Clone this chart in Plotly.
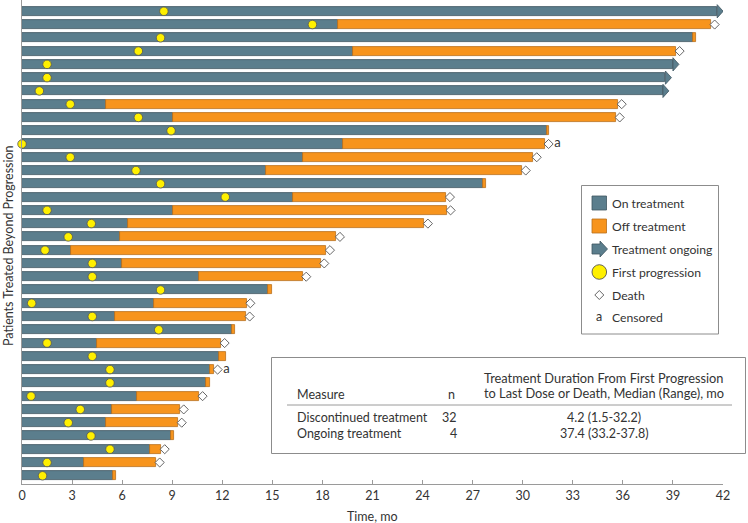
import plotly.graph_objects as go

# ---------------- data ----------------
patients = list(range(1, 37))
on_end = [41.65, 18.93, 40.22, 19.83, 39.0, 38.55, 38.4, 5.05, 9.05, 31.43, 19.23, 16.84,
          14.62, 27.64, 16.24, 9.07, 6.35, 5.87, 2.93, 6.01, 10.6, 14.74, 7.91, 5.57,
          12.56, 4.49, 11.82, 11.24, 11.04, 6.87, 5.39, 5.05, 8.93, 7.65, 3.71, 5.45]
off_end = [None, 41.28, 40.38, 39.18, None, None, None, 35.71, 35.59, 31.6, 31.33, 30.62,
           29.96, 27.78, 25.42, 25.46, 24.1, 18.83, 18.23, 17.89, 16.81, 14.96, 13.46, 13.42,
           12.74, 11.92, 12.22, 11.5, 11.24, 10.6, 9.47, 9.35, 9.13, 8.33, 8.03, 5.65]
first_prog = [8.5, 17.4, 8.3, 6.97, 1.5, 1.5, 1.04, 2.89, 6.97, 8.93, 0.0, 2.89,
              6.83, 8.3, 12.18, 1.5, 4.15, 2.77, 1.38, 4.21, 4.21, 8.3, 0.58, 4.21,
              8.19, 1.5, 4.21, 5.27, 5.27, 0.54, 3.49, 2.77, 4.13, 5.27, 1.5, 1.23]
ongoing = [1, 0, 0, 0, 1, 1, 1, 0, 0, 0, 0, 0, 0, 0, 0, 0, 0, 0,
           0, 0, 0, 0, 0, 0, 0, 0, 0, 0, 0, 0, 0, 0, 0, 0, 0, 0]
death = [0, 1, 0, 1, 0, 0, 0, 1, 1, 0, 1, 1, 1, 0, 1, 1, 1, 1,
         1, 1, 1, 0, 1, 1, 0, 1, 0, 1, 0, 1, 1, 1, 0, 1, 1, 0]
censored = [0, 0, 0, 0, 0, 0, 0, 0, 0, 0, 1, 0, 0, 0, 0, 0, 0, 0,
            0, 0, 0, 0, 0, 0, 0, 0, 0, 1, 0, 0, 0, 0, 0, 0, 0, 0]
x_ticks = [0, 3, 6, 9, 12, 15, 18, 21, 24, 27, 30, 33, 36, 39, 42]

table_rows = ["Discontinued treatment", "Ongoing treatment"]
table_n = [32, 4]
table_dur = ["4.2 (1.5-32.2)", "37.4 (33.2-37.8)"]

legend_labels = ["On treatment", "Off treatment", "Treatment ongoing",
                 "First progression", "Death", "Censored"]

# ---------------- styles ----------------
TEAL = "#5b7e8d"
TEAL_LINE = "#3f5661"
ORANGE = "#f7941d"
ORANGE_LINE = "#b86e1c"
YELLOW = "#fff000"
TXT = "#333333"
FONT = "Lato"
BAR_W = 0.68
HEAD = 0.36

W, H = 748, 523
L, R, T, B = 22, 25, 0, 39
PW, PH = W - L - R, H - T - B


def px(xp):
    return (xp - L) / PW


def py(yp):
    return 1 - (yp - T) / PH


fig = go.Figure()

# on-treatment bars
fig.add_trace(go.Bar(
    y=patients, x=on_end, base=[0] * len(on_end), orientation="h", width=BAR_W,
    marker=dict(color=TEAL, line=dict(color=TEAL_LINE, width=0.8)),
    showlegend=False, hoverinfo="skip"))

# off-treatment bars
off_y, off_len, off_base = [], [], []
for p, a, b in zip(patients, on_end, off_end):
    if b is not None:
        off_y.append(p)
        off_base.append(a)
        off_len.append(b - a)
fig.add_trace(go.Bar(
    y=off_y, x=off_len, base=off_base, orientation="h", width=BAR_W,
    marker=dict(color=ORANGE, line=dict(color=ORANGE_LINE, width=0.8)),
    showlegend=False, hoverinfo="skip"))

shapes = []
# arrow heads for ongoing treatment
for p, a, g in zip(patients, on_end, ongoing):
    if g:
        shapes.append(dict(
            type="path", xref="x", yref="y",
            path=f"M {a},{p - 0.5} L {a + HEAD},{p} L {a},{p + 0.5} Z",
            fillcolor=TEAL, line=dict(color=TEAL_LINE, width=0.8)))

# first progression markers
fig.add_trace(go.Scatter(
    x=first_prog, y=patients, mode="markers",
    marker=dict(symbol="circle", size=8.5, color=YELLOW, line=dict(color="#555", width=0.8)),
    showlegend=False, hoverinfo="skip", cliponaxis=False))

# death markers
dx = [b + 0.22 for b, d in zip(off_end, death) if d]
dy = [p for p, d in zip(patients, death) if d]
fig.add_trace(go.Scatter(
    x=dx, y=dy, mode="markers",
    marker=dict(symbol="diamond", size=7, color="white", line=dict(color="#555", width=0.9)),
    showlegend=False, hoverinfo="skip", cliponaxis=False))

# censored labels
cx = [b + 0.75 for b, c in zip(off_end, censored) if c]
cy = [p for p, c in zip(patients, censored) if c]
fig.add_trace(go.Scatter(
    x=cx, y=cy, mode="text", text=["a"] * len(cx), textposition="middle center",
    textfont=dict(family=FONT, size=13, color=TXT),
    showlegend=False, hoverinfo="skip", cliponaxis=False))

annotations = []

# ---------------- legend box (drawn) ----------------
shapes.append(dict(type="rect", xref="paper", yref="paper",
                   x0=px(581.5), x1=px(718.5), y0=py(185.5), y1=py(334),
                   line=dict(color="#8c8c8c", width=1), fillcolor="white", layer="above"))
leg_y = [203, 226, 249, 272, 295, 317.5]
sx = 599.3
shapes.append(dict(type="rect", xref="paper", yref="paper",
                   x0=px(592), x1=px(606.5), y0=py(leg_y[0] - 7), y1=py(leg_y[0] + 7),
                   fillcolor=TEAL, line=dict(color=TEAL_LINE, width=0.8), layer="above"))
shapes.append(dict(type="rect", xref="paper", yref="paper",
                   x0=px(592), x1=px(606.5), y0=py(leg_y[1] - 7), y1=py(leg_y[1] + 7),
                   fillcolor=ORANGE, line=dict(color=ORANGE_LINE, width=0.8), layer="above"))
yy = leg_y[2]
shapes.append(dict(type="path", xref="paper", yref="paper",
                   path=(f"M {px(592)},{py(yy - 5)} L {px(600)},{py(yy - 5)} L {px(600)},{py(yy - 8)} "
                         f"L {px(607.5)},{py(yy)} L {px(600)},{py(yy + 8)} L {px(600)},{py(yy + 5)} "
                         f"L {px(592)},{py(yy + 5)} Z"),
                   fillcolor=TEAL, line=dict(color=TEAL_LINE, width=0.8), layer="above"))
yy = leg_y[3]
shapes.append(dict(type="circle", xref="paper", yref="paper",
                   x0=px(sx - 7.3), x1=px(sx + 7.3), y0=py(yy - 7.3), y1=py(yy + 7.3),
                   fillcolor=YELLOW, line=dict(color="#555", width=0.9), layer="above"))
yy = leg_y[4]
shapes.append(dict(type="path", xref="paper", yref="paper",
                   path=(f"M {px(sx - 4.5)},{py(yy)} L {px(sx)},{py(yy - 4.5)} L {px(sx + 4.5)},{py(yy)} "
                         f"L {px(sx)},{py(yy + 4.5)} Z"),
                   fillcolor="white", line=dict(color="#555", width=0.9), layer="above"))
annotations.append(dict(xref="paper", yref="paper", x=px(sx), y=py(leg_y[5] - 1), text="a",
                        showarrow=False, xanchor="center", yanchor="middle",
                        font=dict(family=FONT, size=12.5, color=TXT)))
for lab, yy in zip(legend_labels, leg_y):
    annotations.append(dict(xref="paper", yref="paper", x=px(609.5), y=py(yy), text=lab,
                            showarrow=False, xanchor="left", yanchor="middle",
                            font=dict(family=FONT, size=12.2, color=TXT)))

# ---------------- summary table box ----------------
shapes.append(dict(type="rect", xref="paper", yref="paper",
                   x0=px(271.5), x1=px(745.5), y0=py(357.5), y1=py(453.5),
                   line=dict(color="#8c8c8c", width=1), fillcolor="white", layer="above"))
shapes.append(dict(type="line", xref="paper", yref="paper",
                   x0=px(287), x1=px(732), y0=py(405), y1=py(405),
                   line=dict(color="#9a9a9a", width=1), layer="above"))
hdr_font = dict(family=FONT, size=12.5, color=TXT)
annotations.append(dict(xref="paper", yref="paper", x=px(294.5), y=py(394), text="Measure",
                        showarrow=False, xanchor="left", yanchor="middle", font=hdr_font))
annotations.append(dict(xref="paper", yref="paper", x=px(451.5), y=py(394), text="n",
                        showarrow=False, xanchor="center", yanchor="middle", font=hdr_font))
annotations.append(dict(xref="paper", yref="paper", x=px(603.5), y=py(377.7),
                        text="Treatment Duration From First Progression",
                        showarrow=False, xanchor="center", yanchor="middle",
                        font=dict(family=FONT, size=12.8, color=TXT)))
annotations.append(dict(xref="paper", yref="paper", x=px(603.5), y=py(393.3),
                        text="to Last Dose or Death, Median (Range), mo",
                        showarrow=False, xanchor="center", yanchor="middle",
                        font=dict(family=FONT, size=12.8, color=TXT)))
for i, (rname, n, dur) in enumerate(zip(table_rows, table_n, table_dur)):
    yy = 417 + 16 * i
    annotations.append(dict(xref="paper", yref="paper", x=px(294.5), y=py(yy), text=rname,
                            showarrow=False, xanchor="left", yanchor="middle", font=hdr_font))
    annotations.append(dict(xref="paper", yref="paper", x=px(458.5), y=py(yy), text=str(n),
                            showarrow=False, xanchor="right", yanchor="middle", font=hdr_font))
    annotations.append(dict(xref="paper", yref="paper", x=px(604), y=py(yy), text=dur,
                            showarrow=False, xanchor="center", yanchor="middle", font=hdr_font))

# axis titles
annotations.append(dict(xref="paper", yref="paper", x=0.5, y=py(516), text="Time, mo",
                        showarrow=False, xanchor="center", yanchor="middle",
                        font=dict(family=FONT, size=12.5, color=TXT)))
annotations.append(dict(xref="paper", yref="paper", x=px(8), y=py(246),
                        text="Patients Treated Beyond Progression", textangle=-90,
                        showarrow=False, xanchor="center", yanchor="middle",
                        font=dict(family=FONT, size=12.5, color=TXT)))

fig.update_layout(
    width=W, height=H,
    margin=dict(l=L, r=R, t=T, b=B),
    paper_bgcolor="white", plot_bgcolor="white",
    barmode="overlay", bargap=0,
    shapes=shapes, annotations=annotations,
    xaxis=dict(range=[0, 42], tickvals=x_ticks, ticktext=[str(v) for v in x_ticks],
               ticks="inside", ticklen=4, tickcolor="#9a9a9a", showline=True,
               linecolor="#9a9a9a", linewidth=1, showgrid=False, zeroline=False,
               tickfont=dict(family=FONT, size=12.5, color=TXT), fixedrange=True),
    yaxis=dict(range=[36.62, 0.15], showline=True, linecolor="#9a9a9a", linewidth=1,
               showticklabels=False, ticks="", showgrid=False, zeroline=False, fixedrange=True),
    font=dict(family=FONT, color=TXT),
)

fig.write_html("out.html", config={"displayModeBar": False},
               post_script="document.body.style.margin='0';document.body.style.overflow='hidden';")
